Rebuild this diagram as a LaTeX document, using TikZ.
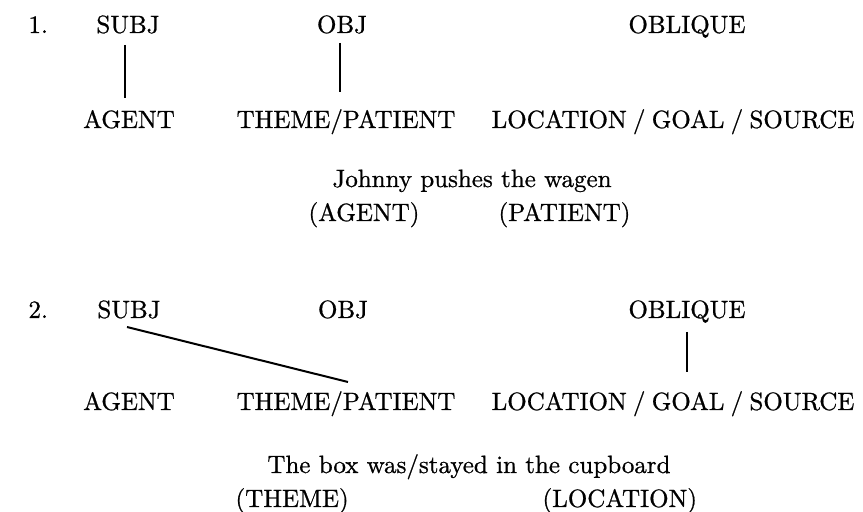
\documentclass[tikz,border=0pt]{standalone}
\usepackage{fontspec}
\newfontfamily\scanfont{Latin Modern Roman}[UprightFeatures={FakeBold=0.8}]
\usetikzlibrary{calc}
\begin{document}
\begin{tikzpicture}[x=0.4pt,y=-0.4pt,
  lbl/.style={inner sep=0pt,anchor=base,font=\scanfont\fontsize{10}{12}\selectfont},
  lblw/.style={lbl,anchor=base west},
  link/.style={line width=0.8pt}]
\useasboundingbox (0,0) rectangle (863,512);
% ---- example 1 ----
\node[lblw] (n1) at (28,33) {1.};
\node[lbl] (s1) at (128,33) {SUBJ};
\node[lbl] (o1) at (342,33) {OBJ};
\node[lbl] (q1) at (687,33) {OBLIQUE};
\node[lbl] (a1) at (129,128) {AGENT};
\node[lbl] (t1) at (346,128) {THEME/PATIENT};
\node[lbl] (l1) at (673,128) {LOCATION\kern2.5pt/\kern2.5pt GOAL\kern2.5pt/\kern2.5pt SOURCE};
\coordinate (s1top) at ($(s1.base)+(-3,12)$);
\coordinate (s1bot) at ($(a1.base)+(-4,-30)$);
\coordinate (o1top) at ($(o1.base)+(-2,10)$);
\coordinate (o1bot) at ($(t1.base)+(-6,-36)$);
\draw[link] (s1top) -- (s1bot);
\draw[link] (o1top) -- (o1bot);
\node[lbl] (e1) at (472,187) {Johnny pushes the wagen};
\node[lblw] (e1a) at (308,221) {(AGENT)};
\node[lblw] (e1b) at (498,221) {(PATIENT)};
% ---- example 2 ----
\node[lblw] (n2) at (28,318) {2.};
\node[lbl] (s2) at (129,318) {SUBJ};
\node[lbl] (o2) at (343,318) {OBJ};
\node[lbl] (q2) at (687,318) {OBLIQUE};
\node[lbl] (a2) at (129,410) {AGENT};
\node[lbl] (t2) at (346,410) {THEME/PATIENT};
\node[lbl] (l2) at (673,410) {LOCATION\kern2.5pt/\kern2.5pt GOAL\kern2.5pt/\kern2.5pt SOURCE};
\coordinate (s2top) at ($(s2.base)+(-2,9)$);
\coordinate (s2bot) at ($(t2.base)+(2,-28)$);
\coordinate (q2top) at ($(q2.base)+(0,14)$);
\coordinate (q2bot) at ($(l2.base)+(14,-38)$);
\draw[link] (s2top) -- (s2bot);
\draw[link] (q2top) -- (q2top |- q2bot);
\node[lbl] (e2) at (469,473) {The box was/stayed in the cupboard};
\node[lblw] (e2a) at (235,507) {(THEME)};
\node[lblw] (e2b) at (542,507) {(LOCATION)};
\end{tikzpicture}
\end{document}
